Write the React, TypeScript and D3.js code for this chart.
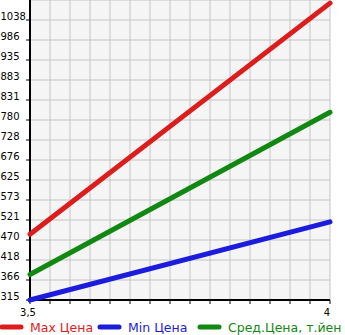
import React from "react";
import * as d3 from "d3";

const xValues = [3.5, 4];
const maxPrice = [485, 1082];
const minPrice = [315, 517];
const avgPrice = [381, 800];
const yTickLabels = ["315", "366", "418", "470", "521", "573", "625", "676", "728", "780", "831", "883", "935", "986", "1038"];
const xTickLabels = ["3,5", "4"];
const legendLabels = ["Max Цена", "Min Цена", "Сред.Цена, т.йен"];
const colors = ["#dd1c1c", "#1c1cdd", "#118811"];

const W = 345, H = 335;
const left = 30, right = 330, top = 0, bottom = 300;
const yMin = 315, yStep = 51.67;

export default function App() {
  const x = d3.scaleLinear().domain([3.5, 4]).range([left, right]);
  const y = d3.scaleLinear().domain([yMin, yMin + 15 * yStep]).range([bottom, top]);
  const xGrid = d3.range(0, 16).map((k) => 3.5 + (k * 0.5) / 15);
  const yGrid = d3.range(0, 16).map((k) => yMin + k * yStep);
  const line = d3
    .line<[number, number]>()
    .x((d) => x(d[0]))
    .y((d) => y(d[1]));
  const series = [maxPrice, minPrice, avgPrice];
  const font = "'DejaVu Sans', Verdana, sans-serif";
  return (
    <svg width={W} height={H} style={{ position: "absolute", left: 0, top: 0 }} fontFamily={font}>
      <rect x={0} y={0} width={W} height={H} fill="#fff" />
      <rect x={left} y={top} width={right - left} height={bottom - top} fill="#f5f5f5" />
      {xGrid.slice(1).map((v, i) => (
        <line key={"xg" + i} x1={x(v)} x2={x(v)} y1={top} y2={bottom} stroke="#c4c4c4" strokeWidth={1} />
      ))}
      {yGrid.slice(1).map((v, i) => (
        <line key={"yg" + i} x1={left} x2={right} y1={y(v)} y2={y(v)} stroke="#c4c4c4" strokeWidth={1} />
      ))}
      {yGrid.slice(0, 15).map((v, i) => (
        <g key={"yt" + i}>
          <line x1={left - 4} x2={left} y1={y(v)} y2={y(v)} stroke="#000" strokeWidth={1} />
          <text x={0.5} y={y(v)} fontSize={10} fill="#000">
            {yTickLabels[i]}
          </text>
        </g>
      ))}
      {xGrid.map((v, i) => (
        <line key={"xt" + i} x1={x(v)} x2={x(v)} y1={bottom} y2={bottom + 4} stroke="#000" strokeWidth={1} />
      ))}
      <text x={x(3.5) - 2} y={316} fontSize={10} textAnchor="middle" fill="#000">
        {xTickLabels[0]}
      </text>
      <text x={x(4)} y={316} fontSize={10} textAnchor="end" fill="#000">
        {xTickLabels[1]}
      </text>
      <line x1={left} x2={left} y1={top} y2={bottom + 1} stroke="#000" strokeWidth={2} />
      <line x1={left - 1} x2={right} y1={bottom} y2={bottom} stroke="#000" strokeWidth={2} />
      {series.map((s, i) => (
        <path
          key={"s" + i}
          d={line(xValues.map((xv, j) => [xv, s[j]] as [number, number])) || ""}
          fill="none"
          stroke={colors[i]}
          strokeWidth={5}
          strokeLinecap="round"
        />
      ))}
      {legendLabels.map((lab, i) => {
        const lx = [2, 100, 200][i];
        return (
          <g key={"lg" + i}>
            <line x1={lx} x2={lx + 19} y1={327} y2={327} stroke={colors[i]} strokeWidth={5} strokeLinecap="round" />
            <text x={lx + 28} y={331.5} fontSize={12.5} fill={colors[i]}>
              {lab}
            </text>
          </g>
        );
      })}
    </svg>
  );
}
